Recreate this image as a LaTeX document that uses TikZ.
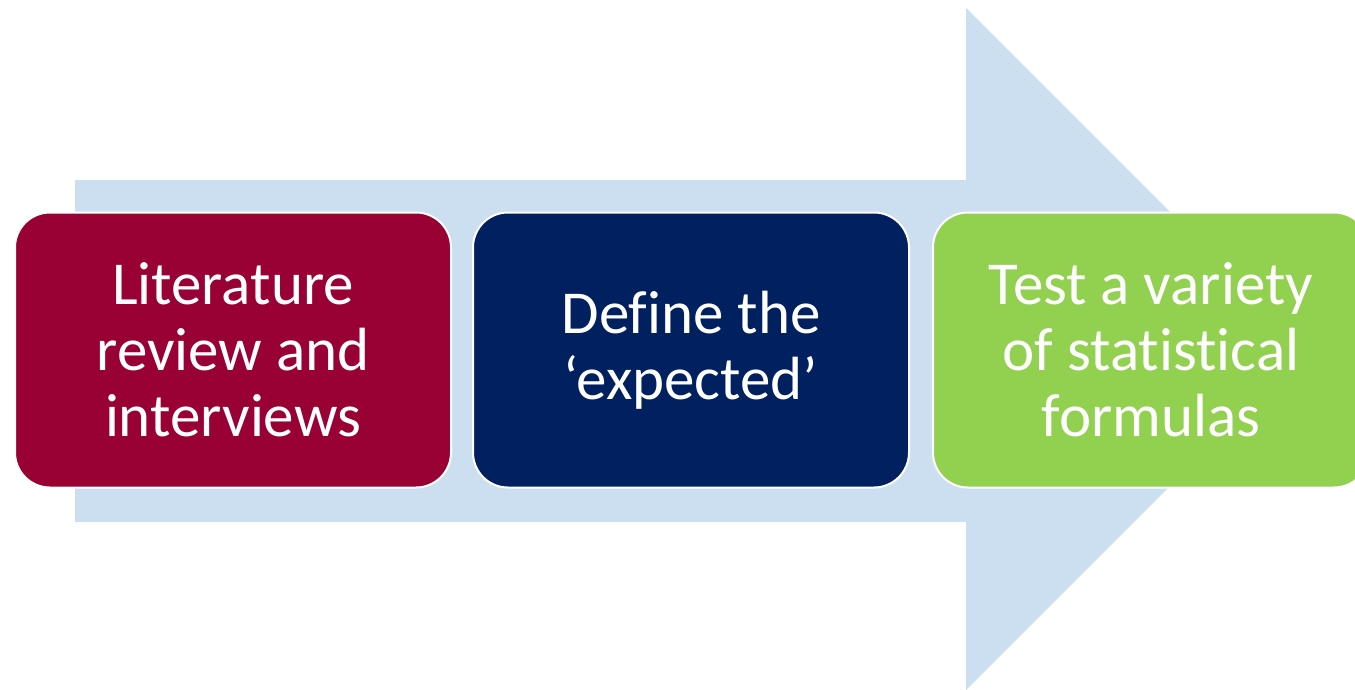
\documentclass[tikz,border=0pt]{standalone}
\usepackage{fontspec}
\setmainfont{Carlito}[Ligatures={NoCommon,NoRare,NoContextual}]
\definecolor{arrowblue}{HTML}{CCDFF0}
\definecolor{boxred}{HTML}{990033}
\definecolor{boxnavy}{HTML}{002060}
\definecolor{boxgreen}{HTML}{92D050}
\tikzset{
  stepbox/.style={draw=white,line width=2pt,rounded corners=35pt,text=white,
    minimum width=436pt,minimum height=275pt,inner sep=0pt,align=center,
    font=\fontsize{61}{66}\selectfont}
}
\begin{document}
\begin{tikzpicture}[x=1pt,y=-1pt]
   \useasboundingbox (0,0) rectangle (1355,690);
   % big arrow behind the steps
   \fill [arrowblue] (75,180) -- (966,180) -- (966,8) -- (1307,349)
     -- (966,690) -- (966,522) -- (75,522) -- cycle;
   \node [stepbox,fill=boxred] (lit) at (233,350) {Literature\\review and\\interviews};
   \node [stepbox,fill=boxnavy] (def) at (691,350) {Define the\\‘expected’};
   \node [stepbox,fill=boxgreen] (test) at (1151,350) {Test a variety\\of statistical\\formulas};
\end{tikzpicture}
\end{document}
